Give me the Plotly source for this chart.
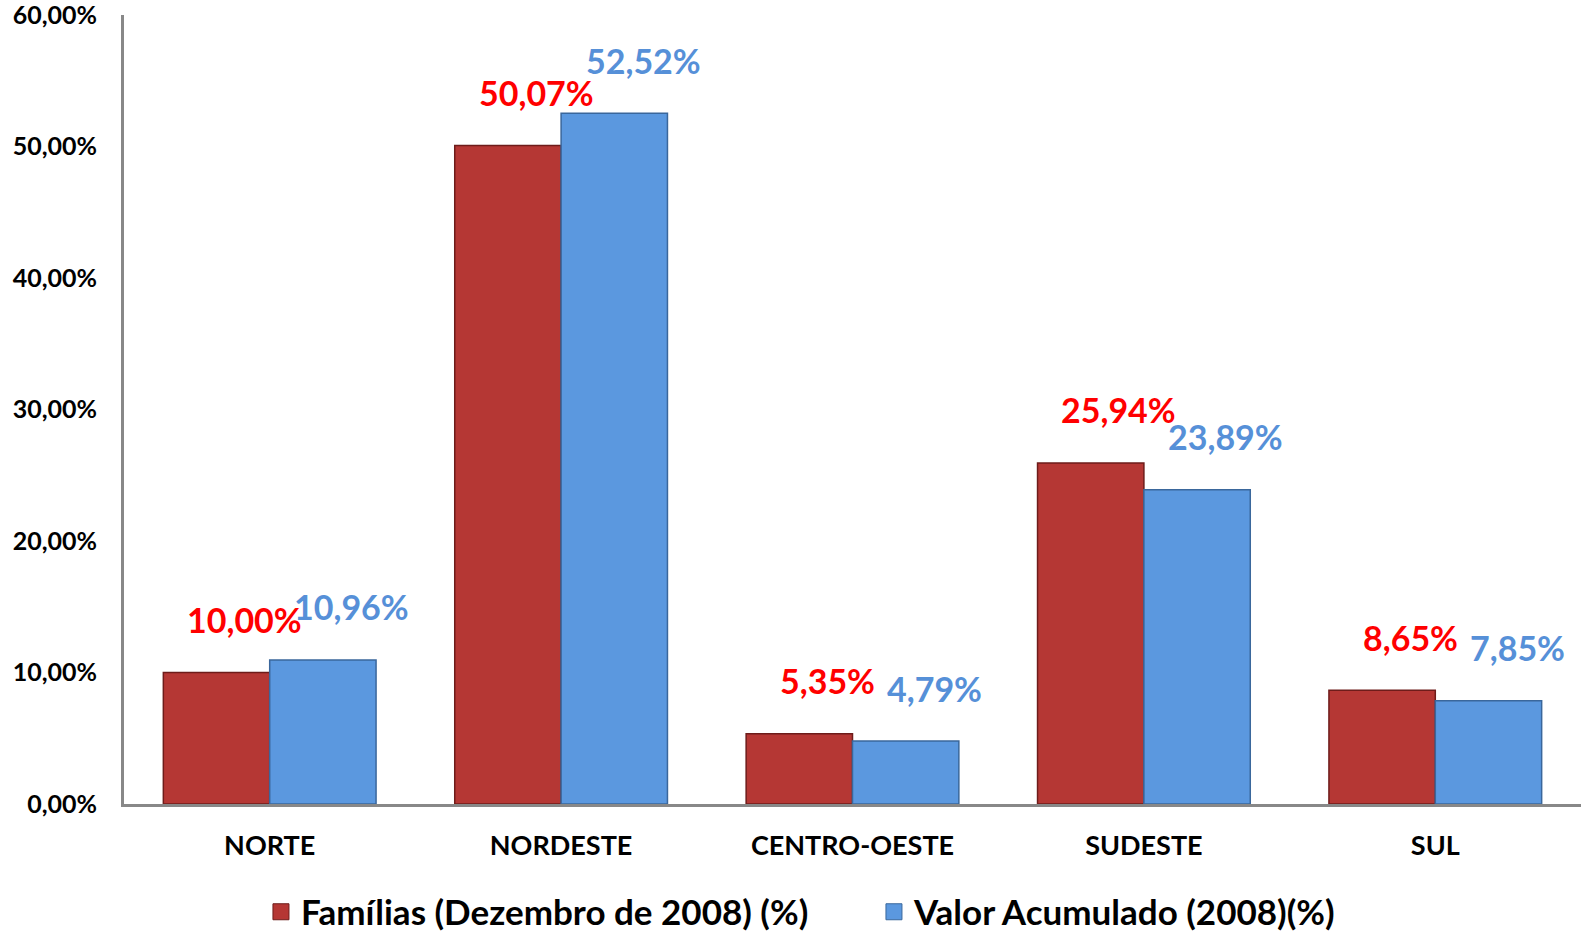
import plotly.graph_objects as go

categories = ["NORTE", "NORDESTE", "CENTRO-OESTE", "SUDESTE", "SUL"]
familias = [10.00, 50.07, 5.35, 25.94, 8.65]
valor = [10.96, 52.52, 4.79, 23.89, 7.85]
series_names = ["Famílias (Dezembro de 2008) (%)", "Valor Acumulado (2008)(%)"]
y_ticks = [0, 10, 20, 30, 40, 50, 60]
y_ticktext = ["0,00%", "10,00%", "20,00%", "30,00%", "40,00%", "50,00%", "60,00%"]

FONT = "Lato, Carlito, Calibri, sans-serif"
RED = "#B53734"
RED_LINE = "#6E1C1A"
BLUE = "#5B98DF"
BLUE_LINE = "#3A679C"
RED_TXT = "#FF0000"
BLUE_TXT = "#5690D8"

fig = go.Figure()
fig.add_trace(go.Bar(x=categories, y=familias, name=series_names[0], showlegend=False,
                     marker=dict(color=RED, line=dict(color=RED_LINE, width=1.5))))
fig.add_trace(go.Bar(x=categories, y=valor, name=series_names[1], showlegend=False,
                     marker=dict(color=BLUE, line=dict(color=BLUE_LINE, width=1.5))))
# legend entries with larger square symbols
fig.add_trace(go.Scatter(x=[None], y=[None], mode="markers", name=series_names[0],
                         marker=dict(symbol="square", size=16, color=RED,
                                     line=dict(color=RED_LINE, width=1))))
fig.add_trace(go.Scatter(x=[None], y=[None], mode="markers", name=series_names[1],
                         marker=dict(symbol="square", size=16, color=BLUE,
                                     line=dict(color=BLUE_LINE, width=1))))

def fmt(v):
    return f"{v:.2f}".replace(".", ",") + "%"

ann = []
for i, c in enumerate(categories):
    ann.append(dict(x=i, y=familias[i], xref="x", yref="y", text=fmt(familias[i]),
                    showarrow=False, xshift=-53 + 28, yshift=53,
                    font=dict(family=FONT, size=34, color=RED_TXT, weight="bold")))
    ann.append(dict(x=i, y=valor[i], xref="x", yref="y", text=fmt(valor[i]),
                    showarrow=False, xshift=53 + 29, yshift=53,
                    font=dict(family=FONT, size=34, color=BLUE_TXT, weight="bold")))

T, B = 15, 128
PH = 932 - T - B
fig.update_layout(
    width=1583, height=932,
    margin=dict(l=124, r=2, t=T, b=B, autoexpand=False),
    paper_bgcolor="white", plot_bgcolor="white",
    barmode="group", bargap=0.27, bargroupgap=0,
    annotations=ann,
    showlegend=True,
    legend=dict(orientation="h", x=0.094, xanchor="left", y=-(912 - (932 - B)) / PH,
                yanchor="middle",
                font=dict(family=FONT, size=35, color="black", weight="bold"),
                itemwidth=30, traceorder="normal",
                entrywidthmode="pixels", entrywidth=568,
                itemsizing="trace", tracegroupgap=0),
    font=dict(family=FONT),
)
fig.update_yaxes(range=[0, 60], tickvals=y_ticks, ticktext=y_ticktext, automargin=False,
                 showgrid=False, showline=True, linecolor="#888888", linewidth=3,
                 ticks="", ticklabelstandoff=19, zeroline=False, ticklabeloverflow="allow",
                 tickfont=dict(family=FONT, size=25, color="black", weight="bold"))
fig.update_xaxes(showline=True, linecolor="#888888", linewidth=3, ticks="", automargin=False,
                 ticklabelstandoff=16,
                 tickfont=dict(family=FONT, size=27, color="black", weight="bold"))

# remove the browser's default 8px body margin so the figure sits at the page origin
fig.write_html("out.html", config={"displayModeBar": False},
               post_script="document.body.style.margin='0px';")
